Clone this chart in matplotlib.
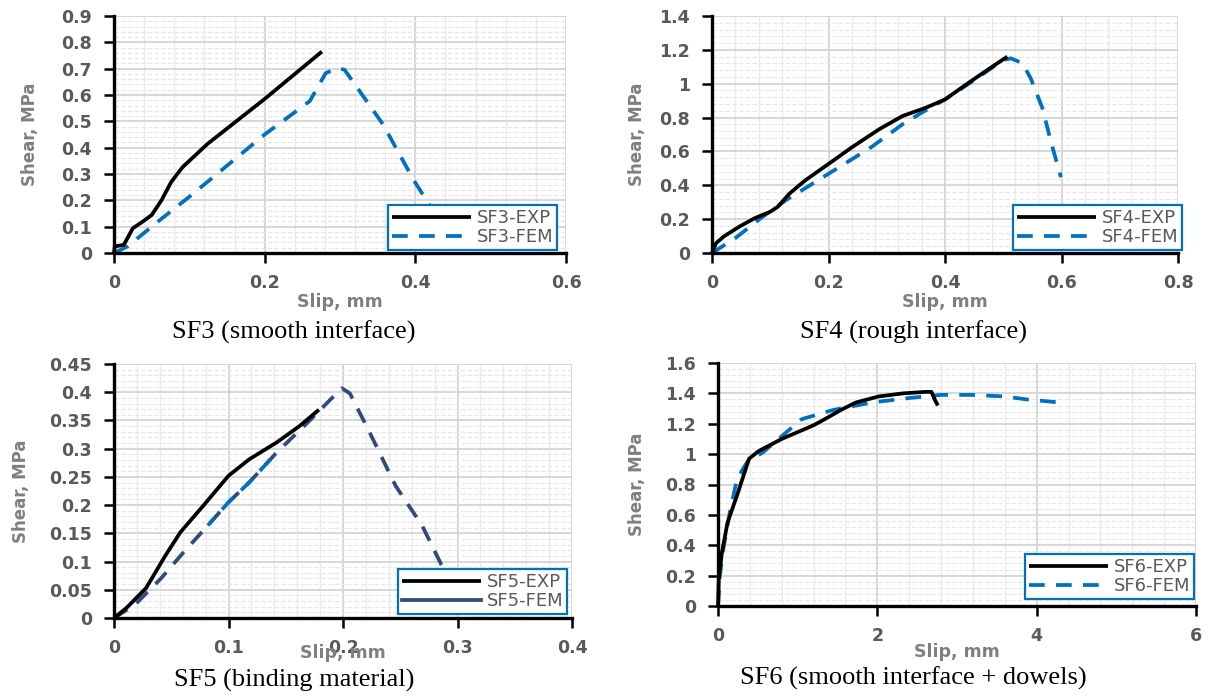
"""Shear vs slip for the four push-off specimens: experiment against FEM."""

import matplotlib
matplotlib.use("Agg")
import matplotlib.pyplot as plt
from matplotlib.ticker import MultipleLocator

# ---- data ----
SF3_EXP_X = [0, 0.001, 0.013, 0.025, 0.038, 0.05, 0.063, 0.076, 0.091, 0.124, 0.2, 0.276]
SF3_EXP_Y = [0, 0.025, 0.031, 0.094, 0.119, 0.144, 0.2, 0.27, 0.326, 0.414, 0.585, 0.765]
SF3_FEM_X = [0, 0.018, 0.063, 0.094, 0.124, 0.2, 0.26, 0.281, 0.296, 0.306, 0.357, 0.398, 0.423, 0.445]
SF3_FEM_Y = [0, 0.025, 0.13, 0.2, 0.27, 0.45, 0.577, 0.683, 0.702, 0.696, 0.489, 0.276, 0.163, 0.08]

SF4_EXP_X = [0, 0.007, 0.02, 0.047, 0.073, 0.1, 0.113, 0.133, 0.16, 0.2, 0.24, 0.287,
             0.327, 0.367, 0.4, 0.44, 0.473, 0.507]
SF4_EXP_Y = [0, 0.058, 0.097, 0.156, 0.205, 0.244, 0.273, 0.351, 0.429, 0.526, 0.624, 0.731,
             0.809, 0.858, 0.907, 1.004, 1.082, 1.16]
SF4_FEM_X = [0, 0.04, 0.087, 0.127, 0.2, 0.273, 0.327, 0.36, 0.4, 0.447, 0.5, 0.513,
             0.533, 0.547, 0.567, 0.583, 0.599]
SF4_FEM_Y = [0, 0.088, 0.214, 0.312, 0.468, 0.624, 0.76, 0.829, 0.907, 1.014, 1.14, 1.15,
             1.121, 1.033, 0.858, 0.643, 0.448]

SF5_EXP_X = [0, 0.011, 0.028, 0.045, 0.058, 0.078, 0.1, 0.118, 0.142, 0.162, 0.179]
SF5_EXP_Y = [0, 0.018, 0.053, 0.111, 0.152, 0.199, 0.252, 0.281, 0.311, 0.34, 0.369]
SF5_FEM_X = [0, 0.018, 0.041, 0.061, 0.082, 0.1, 0.118, 0.142, 0.169, 0.189, 0.199,
             0.206, 0.222, 0.246, 0.269, 0.286, 0.3]
SF5_FEM_Y = [0, 0.023, 0.07, 0.117, 0.164, 0.205, 0.24, 0.293, 0.346, 0.387, 0.407,
             0.398, 0.334, 0.234, 0.164, 0.094, 0.05]

SF6_EXP_X = [0, 0.01, 0.05, 0.12, 0.24, 0.39, 0.51, 0.8, 1.2, 1.34, 1.54, 1.73, 2.02,
             2.32, 2.61, 2.68, 2.72, 2.76]
SF6_EXP_Y = [0, 0.18, 0.355, 0.55, 0.73, 0.97, 1.02, 1.1, 1.19, 1.23, 1.29, 1.34, 1.38,
             1.40, 1.41, 1.41, 1.36, 1.32]
SF6_FEM_X = [0, 0.02, 0.06, 0.15, 0.24, 0.37, 0.56, 1.05, 1.44, 1.93, 2.41, 2.8, 3.19,
             3.59, 3.88, 4.29]
SF6_FEM_Y = [0, 0.18, 0.355, 0.62, 0.84, 0.95, 1.01, 1.23, 1.29, 1.34, 1.37, 1.39, 1.39,
             1.38, 1.36, 1.34]

W, H = 1210, 697
BLUE = "#0070c0"
NAVY = "#2f4b7c"
GREY = "#595959"

# name, caption, axes box in pixels (left, top, right, bottom), limits, steps
PANELS = [
    dict(name="SF3", caption="SF3 (smooth interface)", box=(114, 16, 566, 253),
         xlim=0.6, ylim=0.9, xmaj=0.2, xmin=0.04, ymaj=0.1, ymin=0.02,
         exp=(SF3_EXP_X, SF3_EXP_Y), fem=(SF3_FEM_X, SF3_FEM_Y),
         leg=(383, 210, 557, 250), ylab_x=30, cap=(294, 332), xlab_y=302),
    dict(name="SF4", caption="SF4 (rough interface)", box=(712, 16, 1178, 253),
         xlim=0.8, ylim=1.4, xmaj=0.2, xmin=0.04, ymaj=0.2, ymin=0.04,
         exp=(SF4_EXP_X, SF4_EXP_Y), fem=(SF4_FEM_X, SF4_FEM_Y),
         leg=(984, 213, 1182, 250), ylab_x=637, cap=(913, 332), xlab_y=302),
    dict(name="SF5", caption="SF5 (binding material)", box=(114, 364, 572, 618),
         xlim=0.4, ylim=0.45, xmaj=0.1, xmin=0.02, ymaj=0.05, ymin=0.01,
         exp=(SF5_EXP_X, SF5_EXP_Y), fem=(SF5_FEM_X, SF5_FEM_Y),
         leg=(366, 572, 567, 614), ylab_x=21, cap=(294, 680), xlab_y=653),
    dict(name="SF6", caption="SF6 (smooth interface + dowels)", box=(718, 363, 1196, 606),
         xlim=6, ylim=1.6, xmaj=2, xmin=0.4, ymaj=0.2, ymin=0.04,
         exp=(SF6_EXP_X, SF6_EXP_Y), fem=(SF6_FEM_X, SF6_FEM_Y),
         leg=(998, 560, 1194, 599), ylab_x=637, cap=(913, 678), xlab_y=652),
]


def draw_panel(fig, p):
    l, t, r, b = p["box"]
    ax = fig.add_axes([l / W, 1 - b / H, (r - l) / W, (b - t) / H])
    ax.set_xlim(0, p["xlim"])
    ax.set_ylim(0, p["ylim"])
    ax.xaxis.set_major_locator(MultipleLocator(p["xmaj"]))
    ax.xaxis.set_minor_locator(MultipleLocator(p["xmin"]))
    ax.yaxis.set_major_locator(MultipleLocator(p["ymaj"]))
    ax.yaxis.set_minor_locator(MultipleLocator(p["ymin"]))
    ax.xaxis.set_major_formatter(lambda v, pos: f"{v:g}")
    ax.yaxis.set_major_formatter(lambda v, pos: f"{v:g}")

    ax.grid(which="major", color="#d4d4d4", linewidth=1.3, zorder=0)
    ax.grid(which="minor", axis="x", color="#ebebeb", linewidth=1.0, zorder=0)
    ax.grid(which="minor", axis="y", color="#e6e6e6", linewidth=0.8,
            linestyle=(0, (4, 2)), zorder=0)
    ax.set_axisbelow(True)

    for s in ("top", "right"):
        ax.spines[s].set_visible(False)
    for s in ("left", "bottom"):
        ax.spines[s].set_linewidth(2.4)
        ax.spines[s].set_color("black")
    ax.tick_params(which="major", direction="out", length=7, width=1.8, color="black",
                   labelsize=12.5, labelcolor=GREY)
    ax.tick_params(which="minor", length=0)
    ax.tick_params(axis="x", pad=8)
    ax.tick_params(axis="y", pad=9)
    for lab in ax.get_xticklabels() + ax.get_yticklabels():
        lab.set_fontweight("bold")

    fem_color = NAVY if p["name"] == "SF5" else BLUE
    ax.plot(*p["exp"], color="black", linewidth=2.7, label=f"{p['name']}-EXP",
            solid_capstyle="butt", zorder=3, clip_on=False)
    ax.plot(*p["fem"], color=fem_color, linewidth=2.7, linestyle=(0, (4.2, 3.0)),
            label=f"{p['name']}-FEM", zorder=2)
    if p["name"] == "SF5":
        # lower part of the FEM trace shows through in a lighter blue
        fx, fy = p["fem"]
        ax.plot(fx[4:8], fy[4:8], color=BLUE, linewidth=2.7,
                linestyle=(1.5, (4.2, 3.0)), zorder=2)

    ll, lt, lr, lb = p["leg"]
    leg = ax.legend(loc="lower right", bbox_to_anchor=((lr - l) / (r - l), (b - lb) / (b - t)),
                    borderaxespad=0, fontsize=13, handlelength=4.4, handletextpad=0.3,
                    labelspacing=0.05, borderpad=0.22, fancybox=False, framealpha=1)
    leg.get_frame().set_edgecolor(BLUE)
    leg.get_frame().set_linewidth(1.6)
    leg.set_zorder(5)
    for txt in leg.get_texts():
        txt.set_color(GREY)
    if p["name"] == "SF5":
        leg.get_lines()[1].set_linestyle("-")

    ax.set_xlabel("Slip, mm", fontsize=12.5, fontweight="bold", color="#7f7f7f")
    ax.xaxis.set_label_coords(0.5, (b - p["xlab_y"]) / (b - t), transform=ax.transAxes)
    ax.xaxis.label.set_va("center")
    ax.set_ylabel("Shear, MPa", fontsize=12, fontweight="bold", color="#7f7f7f")
    ax.yaxis.set_label_coords((p["ylab_x"] - l) / (r - l), 0.5)
    ax.yaxis.label.set_va("center")

    cx, cy = p["cap"]
    fig.text(cx / W, 1 - cy / H, p["caption"], ha="center", va="center",
             fontsize=19, family="Liberation Serif", color="black")
    return ax


fig = plt.figure(figsize=(W / 100, H / 100), dpi=100)
for panel in PANELS:
    draw_panel(fig, panel)
fig.savefig("out.png", dpi=100)
plt.close(fig)
